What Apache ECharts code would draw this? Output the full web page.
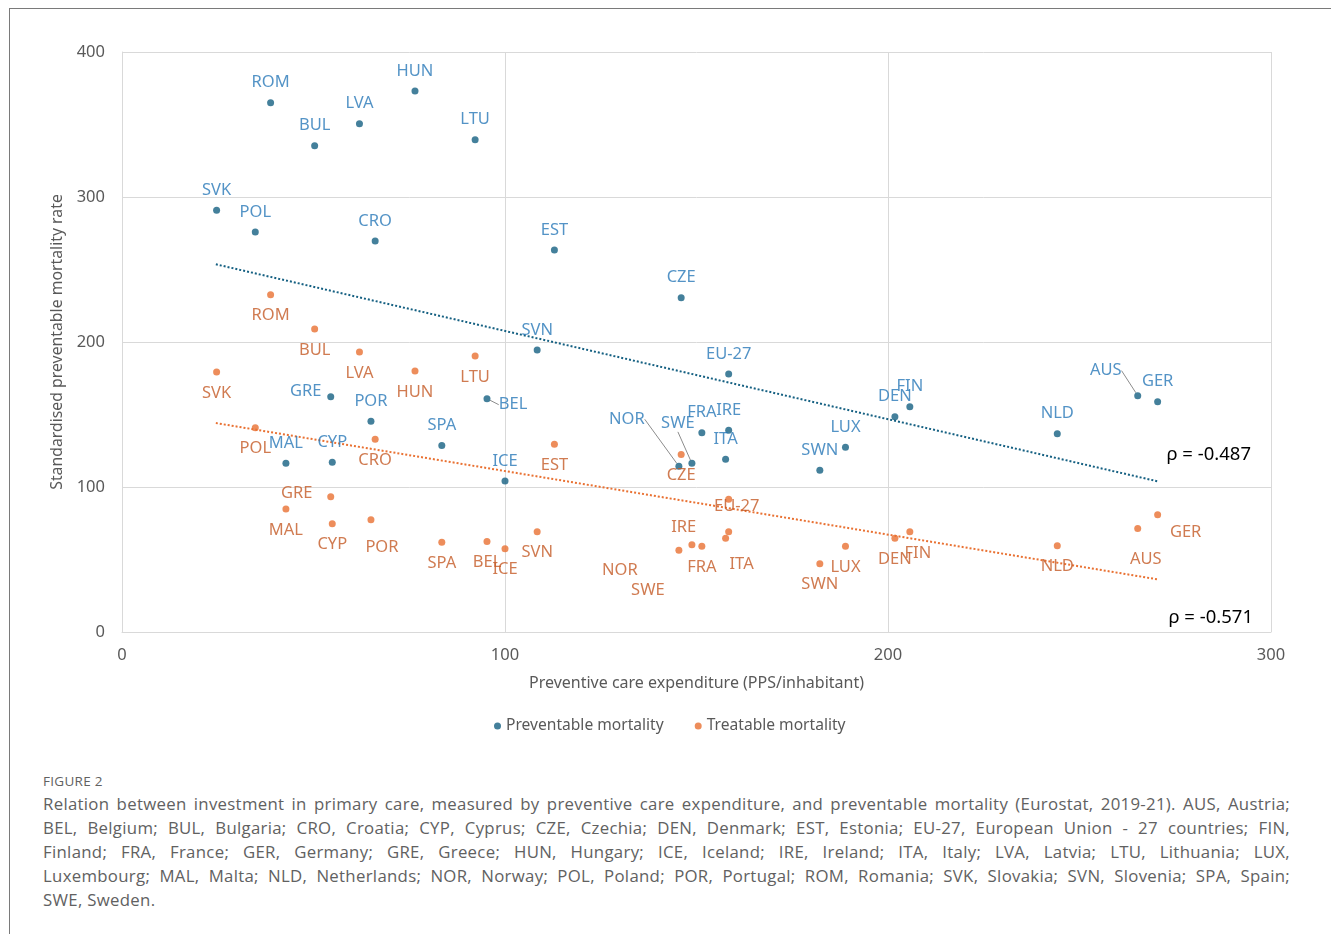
<!DOCTYPE html>
<html>
<head>
<meta charset="utf-8">
<script src="https://cdn.jsdelivr.net/npm/echarts@6/dist/echarts.min.js"></script>
<style>
  html, body { margin: 0; padding: 0; background: #fff; }
  #page { position: relative; width: 1331px; height: 934px; overflow: hidden; }
  #frame { position: absolute; left: 9px; top: 8px; right: -2px; bottom: -2px;
           border-left: 1px solid #7a7a7a; border-top: 1px solid #7a7a7a; }
  #chart { position: absolute; left: 0; top: 0; width: 1331px; height: 760px; }
  #caption { position: absolute; left: 43px; top: 770px; width: 1247px;
             font-family: "Open Sans", "Noto Sans", sans-serif; color: #616161; }
  #caption .fig { font-size: 13.5px; letter-spacing: 0.3px; line-height: 22px; }
  #caption .ln { font-size: 16.8px; letter-spacing: 0.3px; line-height: 24px; text-align: justify; text-align-last: justify; white-space: nowrap; }
  #caption .ln.last { text-align-last: left; }
</style>
</head>
<body>
<div id="page">
  <div id="frame"></div>
  <div id="chart"></div>
  <div id="caption">
    <div class="fig">FIGURE 2</div>
    <div class="ln">Relation between investment in primary care, measured by preventive care expenditure, and preventable mortality (Eurostat, 2019-21). AUS, Austria;</div>
    <div class="ln">BEL, Belgium; BUL, Bulgaria; CRO, Croatia; CYP, Cyprus; CZE, Czechia; DEN, Denmark; EST, Estonia; EU-27, European Union - 27 countries; FIN,</div>
    <div class="ln">Finland; FRA, France; GER, Germany; GRE, Greece; HUN, Hungary; ICE, Iceland; IRE, Ireland; ITA, Italy; LVA, Latvia; LTU, Lithuania; LUX,</div>
    <div class="ln">Luxembourg; MAL, Malta; NLD, Netherlands; NOR, Norway; POL, Poland; POR, Portugal; ROM, Romania; SVK, Slovakia; SVN, Slovenia; SPA, Spain;</div>
    <div class="ln last">SWE, Sweden.</div>
  </div>
</div>
<script>
// Country codes, preventive care expenditure (PPS per inhabitant) and the two mortality rates
const countries = ['ROM','HUN','LVA','BUL','LTU','SVK','POL','CRO','EST','SVN','CZE','EU-27','GRE','POR','BEL','SPA',
                   'MAL','CYP','ICE','NOR','SWE','FRA','IRE','ITA','SWN','LUX','DEN','FIN','NLD','AUS','GER'];
const expenditure = [38.8, 76.5, 62.0, 50.3, 92.2, 24.7, 34.8, 66.1, 112.9, 108.4, 146.0, 158.4, 54.5, 65.0, 95.3, 83.5,
                     42.8, 54.9, 100.0, 145.4, 148.8, 151.4, 158.4, 157.6, 182.2, 188.9, 201.8, 205.7, 244.2, 265.2, 270.4];
const preventable = [365.0, 373.1, 350.6, 335.4, 339.5, 290.8, 275.9, 269.7, 263.4, 194.5, 230.6, 177.9, 162.3, 145.3, 160.9, 128.7,
                     116.3, 117.0, 104.1, 114.3, 116.3, 137.5, 139.1, 119.1, 111.5, 127.4, 148.5, 155.4, 136.8, 163.0, 158.8];
const treatable   = [232.6, 180.0, 193.1, 209.0, 190.3, 179.3, 140.9, 132.9, 129.4, 69.2, 122.5, 91.5, 93.3, 77.5, 62.5, 61.9,
                     84.8, 74.7, 57.5, 56.3, 60.2, 59.1, 69.2, 64.6, 47.1, 59.1, 64.6, 69.2, 59.5, 71.3, 80.9];

// Linear trend lines (end points of each fitted line)
const preventableTrend = [[24.5, 253.6], [270.4, 103.9]];
const treatableTrend   = [[24.5, 144.1], [270.4, 36.3]];
const correlations = ['ρ = -0.487', 'ρ = -0.571'];

// Axis ticks
const xTicks = [0, 100, 200, 300];
const yTicks = [0, 100, 200, 300, 400];

// Label placement (pixel shift from each point); codes not listed use the default
const prevLabelShift = { 'GRE': [-25, -5], 'BEL': [26, 6], 'NOR': [-52, -47], 'SWE': [-14, -40], 'AUS': [-32, -25] };
const treatLabelShift = { 'GRE': [-34, -3], 'POR': [11, 28], 'EU-27': [8, 7], 'IRE': [-45, -4], 'NOR': [-59, 20],
                          'SWE': [-44, 46], 'ITA': [16, 26], 'FIN': [8, 22], 'AUS': [8, 31], 'GER': [28, 18] };
const prevLeaders = ['BEL', 'NOR', 'SWE', 'AUS'];

const BLUE = '#156082', ORANGE = '#E97132';
const BLUE_TXT = '#2878b8', ORANGE_TXT = '#c45a26';
const FONT = '"Noto Sans", "Open Sans", sans-serif';

function points(values, leaders) {
  return countries.map((c, i) => {
    const item = { name: c, value: [expenditure[i], values[i]] };
    if (leaders && leaders.indexOf(c) >= 0) {
      item.labelLine = { show: true, lineStyle: { color: '#8c8c8c', width: 1 } };
    }
    return item;
  });
}

const chart = echarts.init(document.getElementById('chart'), null, { renderer: 'canvas' });

const labelBase = { show: true, position: 'inside', formatter: '{b}', fontFamily: FONT, fontSize: 16.5 };

chart.setOption({
  animation: false,
  textStyle: { fontFamily: FONT },
  grid: { left: 122, right: 60, top: 52, bottom: 128 },
  xAxis: {
    type: 'value', min: xTicks[0], max: xTicks[xTicks.length - 1], interval: 100,
    name: 'Preventive care expenditure (PPS/inhabitant)', nameLocation: 'middle', nameGap: 43,
    nameTextStyle: { color: '#595959', fontSize: 16, fontFamily: FONT },
    axisLine: { show: true, lineStyle: { color: '#d9d9d9' } },
    axisTick: { show: false },
    axisLabel: { color: '#595959', fontSize: 16.5, margin: 15, fontFamily: FONT },
    splitLine: { show: true, lineStyle: { color: '#d9d9d9' } }
  },
  yAxis: {
    type: 'value', min: yTicks[0], max: yTicks[yTicks.length - 1], interval: 100,
    name: 'Standardised preventable mortality rate', nameLocation: 'middle', nameGap: 53,
    nameTextStyle: { color: '#595959', fontSize: 15.8, fontFamily: FONT },
    axisLine: { show: true, lineStyle: { color: '#d9d9d9' } },
    axisTick: { show: false },
    axisLabel: { color: '#595959', fontSize: 16.5, margin: 17, fontFamily: FONT },
    splitLine: { show: true, lineStyle: { color: '#d9d9d9' } }
  },
  legend: {
    data: ['Preventable mortality', 'Treatable mortality'],
    bottom: 21, left: 489, icon: 'circle', itemWidth: 7, itemHeight: 7, itemGap: 31,
    textStyle: { color: '#595959', fontSize: 15.6, fontFamily: FONT }
  },
  graphic: [
    { type: 'text', right: 80, top: 445, style: { text: correlations[0], fill: '#000', font: '18.5px ' + FONT } },
    { type: 'text', right: 78, top: 608, style: { text: correlations[1], fill: '#000', font: '18.5px ' + FONT } }
  ],
  series: [
    {
      name: 'Preventable trend', type: 'line', data: preventableTrend, symbol: 'none', silent: true, z: 1,
      lineStyle: { color: BLUE, width: 2, type: [2, 2] }
    },
    {
      name: 'Treatable trend', type: 'line', data: treatableTrend, symbol: 'none', silent: true, z: 1,
      lineStyle: { color: ORANGE, width: 2, type: [2, 2] }
    },
    {
      name: 'Preventable mortality', type: 'scatter', symbolSize: 7, z: 3,
      itemStyle: { color: BLUE },
      data: points(preventable, prevLeaders),
      label: Object.assign({ color: BLUE_TXT }, labelBase),
      labelLayout: function (p) {
        const s = prevLabelShift[countries[p.dataIndex]] || [0, -20];
        return { dx: s[0], dy: s[1] };
      }
    },
    {
      name: 'Treatable mortality', type: 'scatter', symbolSize: 7, z: 3,
      itemStyle: { color: ORANGE },
      data: points(treatable, null),
      label: Object.assign({ color: ORANGE_TXT }, labelBase),
      labelLayout: function (p) {
        const s = treatLabelShift[countries[p.dataIndex]] || [0, 21];
        return { dx: s[0], dy: s[1] };
      }
    }
  ]
});
</script>
</body>
</html>
